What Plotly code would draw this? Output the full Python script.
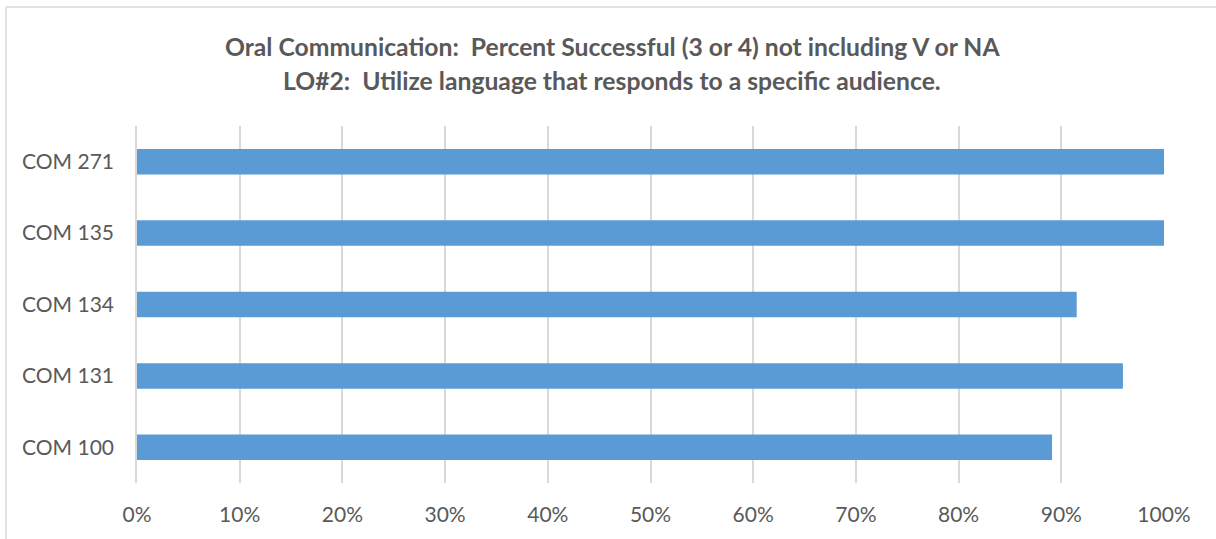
import plotly.graph_objects as go

# Course sections (bottom to top) and share of successful students
courses = ["COM 100", "COM 131", "COM 134", "COM 135", "COM 271"]
success = [0.891, 0.960, 0.915, 1.0, 1.0]

title_lines = [
    "Oral Communication:  Percent Successful (3 or 4) not including V or NA",
    "LO#2:  Utilize language that responds to a specific audience.",
]

W, H = 1216, 539
ML, MR, MT, MB = 137, 52, 126, 56
PW, PH = W - ML - MR, H - MT - MB


def px_x(px):
    return (px - ML) / PW


def px_y(py):
    return (H - MB - py) / PH


FONT = "Lato, 'Open Sans', sans-serif"
GRID = "#d9d9d9"
TEXT = "#595959"

fig = go.Figure(
    go.Bar(
        x=success,
        y=courses,
        orientation="h",
        marker=dict(color="#5b9bd5", line=dict(width=0)),
        hoverinfo="x+y",
    )
)

annotations = []
for text, py in zip(title_lines, [47, 80]):
    annotations.append(
        dict(
            text=f"<b>{text}</b>",
            x=px_x(612), y=px_y(py), xref="paper", yref="paper",
            xanchor="center", yanchor="middle", showarrow=False,
            font=dict(family=FONT, size=24.7, color=TEXT),
        )
    )

# Chart-area frame (top and left edges)
shapes = [
    dict(type="line", xref="paper", yref="paper",
         x0=px_x(6), x1=px_x(W + 2), y0=px_y(7), y1=px_y(7),
         line=dict(color=GRID, width=1.5)),
    dict(type="line", xref="paper", yref="paper",
         x0=px_x(6), x1=px_x(6), y0=px_y(7), y1=px_y(H + 2),
         line=dict(color=GRID, width=1.5)),
]

fig.update_layout(
    width=W, height=H,
    margin=dict(l=ML, r=MR, t=MT, b=MB, autoexpand=False),
    paper_bgcolor="white", plot_bgcolor="white",
    showlegend=False,
    bargap=0.643,
    annotations=annotations,
    shapes=shapes,
    xaxis=dict(
        range=[0, 1], tickmode="array",
        tickvals=[i / 10 for i in range(11)],
        ticktext=[f"{i * 10}%" for i in range(11)],
        showgrid=True, gridcolor=GRID, gridwidth=1.5,
        zeroline=False, showline=False,
        ticks="outside", ticklen=13, tickcolor="rgba(0,0,0,0)",
        tickfont=dict(family=FONT, size=21, color=TEXT),
        fixedrange=True,
    ),
    yaxis=dict(
        showgrid=False, zeroline=False,
        showline=True, linecolor=GRID, linewidth=1.5,
        ticks="outside", ticklen=17, tickcolor="rgba(0,0,0,0)",
        tickfont=dict(family=FONT, size=21, color=TEXT),
        fixedrange=True,
    ),
)

fig.write_html("out.html", config={"displayModeBar": False})
